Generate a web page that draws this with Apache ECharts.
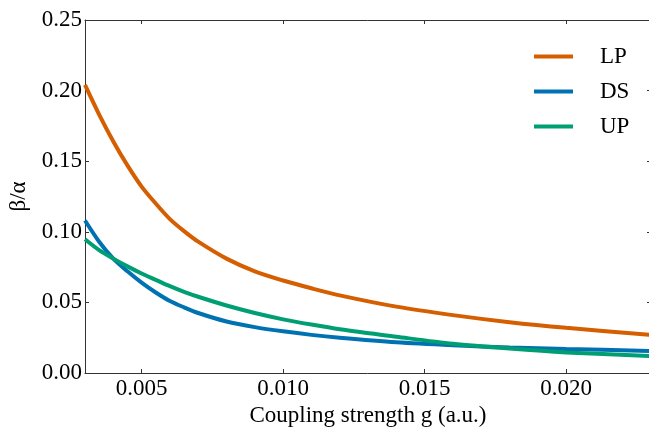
<!DOCTYPE html>
<html>
<head>
<meta charset="utf-8">
<script src="https://cdn.jsdelivr.net/npm/echarts@6/dist/echarts.min.js"></script>
<style>
html, body { margin: 0; padding: 0; background: #fff; }
#chart { width: 649px; height: 428px; }
</style>
</head>
<body>
<div id="chart"></div>
<script>
var chartDom = document.getElementById("chart");
var myChart = echarts.init(chartDom);

// coupling strength g (a.u.)
var gValues = [0.003, 0.0035, 0.004, 0.0045, 0.005, 0.0055, 0.006, 0.0065, 0.007, 0.008, 0.009, 0.010, 0.011, 0.012, 0.014, 0.016, 0.018, 0.020, 0.023];
// beta / alpha
var lpValues = [0.204, 0.183, 0.164, 0.147, 0.132, 0.120, 0.109, 0.1005, 0.093, 0.081, 0.072, 0.0655, 0.060, 0.055, 0.047, 0.041, 0.036, 0.032, 0.027];
var dsValues = [0.108, 0.093, 0.081, 0.072, 0.064, 0.057, 0.051, 0.0465, 0.0425, 0.0365, 0.0325, 0.0295, 0.027, 0.025, 0.0218, 0.0197, 0.0181, 0.017, 0.0156];
var upValues = [0.0947, 0.087, 0.081, 0.0755, 0.0705, 0.066, 0.0615, 0.0575, 0.054, 0.0478, 0.0425, 0.038, 0.0343, 0.031, 0.0257, 0.0207, 0.0173, 0.0146, 0.012];

var seriesNames = ["LP", "DS", "UP"];
var seriesColors = ["#d55e00", "#0072b2", "#009e73"];

function pairs(ys) {
	return gValues.map(function(g, i) {
		return [g, ys[i]];
	});
}

var fontName = "Liberation Serif";
var axisCol = "#333";

var allSeries = [lpValues, dsValues, upValues].map(function(ys, i) {
	return {
		name: seriesNames[i],
		type: 'line',
		data: pairs(ys),
		smooth: 0.3,
		showSymbol: false,
		lineStyle: { width: 4, color: seriesColors[i] },
		itemStyle: { color: seriesColors[i] }
	};
});

var option = {
	animation: false,
	grid: { left: 85, right: -2, top: 20, bottom: 55, outerBoundsMode: 'none', containLabel: false },
	legend: {
		orient: 'vertical',
		left: 529,
		top: 40,
		itemWidth: 39,
		itemHeight: 4,
		itemGap: 12,
		icon: 'rect',
		data: seriesNames,
		textStyle: { fontFamily: fontName, fontSize: 23, color: '#000', padding: [0, 0, 0, 22] }
	},
	xAxis: [{
		type: 'value',
		min: 0.003,
		max: 0.023,
		splitNumber: 4,
		name: 'Coupling strength g (a.u.)',
		nameLocation: 'middle',
		nameGap: 27,
		nameTextStyle: { fontFamily: fontName, fontSize: 23, color: '#000' },
		axisLine: { show: true, onZero: false, lineStyle: { color: axisCol, width: 1 } },
		axisTick: { inside: true, length: 4, lineStyle: { color: axisCol } },
		splitLine: { show: false },
		axisLabel: {
			fontFamily: fontName, fontSize: 23, color: '#000', margin: 4,
			formatter: function(v) {
				var k = Math.round(v * 1000);
				if (k % 5 !== 0) return '';
				return v.toFixed(3);
			}
		}
	}, {
		type: 'value',
		position: 'top',
		min: 0.003,
		max: 0.023,
		splitNumber: 4,
		axisLine: { show: true, onZero: false, lineStyle: { color: axisCol, width: 1 } },
		axisTick: { inside: true, length: 4, lineStyle: { color: axisCol } },
		axisLabel: { show: false },
		splitLine: { show: false }
	}],
	yAxis: [{
		type: 'value',
		min: 0,
		max: 0.25,
		interval: 0.05,
		name: 'β/α',
		nameLocation: 'middle',
		nameGap: 55,
		nameTextStyle: { fontFamily: fontName, fontSize: 23, color: '#000' },
		axisLine: { show: true, onZero: false, lineStyle: { color: axisCol, width: 1 } },
		axisTick: { show: true, inside: true, length: 4, lineStyle: { color: axisCol } },
		splitLine: { show: false },
		axisLabel: {
			fontFamily: fontName, fontSize: 23, color: '#000', margin: 3,
			formatter: function(v) { return v.toFixed(2); }
		}
	}, {
		type: 'value',
		position: 'right',
		min: 0,
		max: 0.25,
		interval: 0.05,
		axisLine: { show: true, onZero: false, lineStyle: { color: axisCol, width: 1 } },
		axisTick: { show: true, inside: true, length: 4, lineStyle: { color: axisCol } },
		axisLabel: { show: false },
		splitLine: { show: false }
	}],
	series: allSeries
};

myChart.setOption(option);
</script>
</body>
</html>
